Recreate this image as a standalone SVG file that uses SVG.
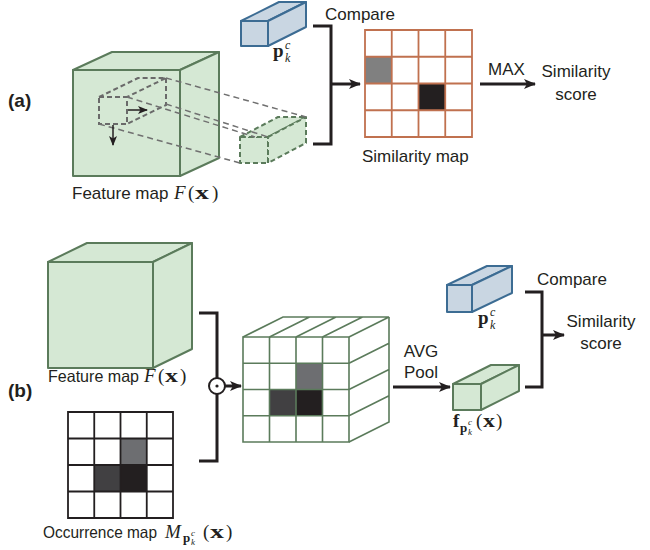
<svg xmlns="http://www.w3.org/2000/svg" width="650" height="550" viewBox="0 0 650 550">
<defs>
<style>
.t{font-family:"Liberation Sans",Arial,sans-serif;font-size:17px;fill:#231f20}
.t16{font-family:"Liberation Sans",Arial,sans-serif;font-size:16.5px;fill:#231f20}
.lbl{font-family:"Liberation Sans",Arial,sans-serif;font-size:19px;font-weight:bold;fill:#231f20}
.m{font-family:"Liberation Serif","Times New Roman",serif;font-size:19px;fill:#231f20}
.mi{font-family:"Liberation Serif","Times New Roman",serif;font-size:19px;font-style:italic;fill:#231f20}
.mb{font-family:"Liberation Serif","Times New Roman",serif;font-size:19px;font-weight:bold;fill:#231f20}
.ms{font-family:"Liberation Serif","Times New Roman",serif;font-size:12px;font-style:italic;fill:#231f20}
.msb{font-family:"Liberation Serif","Times New Roman",serif;font-size:13px;font-weight:bold;fill:#231f20}
.mss{font-family:"Liberation Serif","Times New Roman",serif;font-size:9px;font-style:italic;fill:#231f20}
.green{fill:#d5e8d4;stroke:#5b7b5b;stroke-width:2;stroke-linejoin:round}
.blue{fill:#c9d6e2;stroke:#3c6c93;stroke-width:2;stroke-linejoin:round}
.gdash{fill:#d5e8d4;stroke:#5b7b5b;stroke-width:2;stroke-dasharray:5,3;stroke-linejoin:round}
.dash{fill:none;stroke:#707070;stroke-width:1.5;stroke-dasharray:6,4}
.sdash{fill:none;stroke:#6a6a6a;stroke-width:2;stroke-dasharray:5,3}
.br{fill:none;stroke:#231f20;stroke-width:3}
.arr{fill:none;stroke:#231f20;stroke-width:3}
.sarr{fill:none;stroke:#231f20;stroke-width:1.5}
.sim{fill:none;stroke:#c0714f;stroke-width:1.8}
.occ{fill:none;stroke:#231f20;stroke-width:1.8}
.gg{fill:none;stroke:#5b7b5b;stroke-width:1.6}
</style>
<marker id="ah" viewBox="0 0 12 10" refX="11" refY="5" markerWidth="12" markerHeight="10" markerUnits="userSpaceOnUse" orient="auto">
<path d="M0,0 L12,5 L0,10 L3,5 Z" fill="#231f20"/>
</marker>
<marker id="sah" viewBox="0 0 10 8" refX="9" refY="4" markerWidth="10" markerHeight="8" markerUnits="userSpaceOnUse" orient="auto">
<path d="M0,0 L10,4 L0,8 L2.5,4 Z" fill="#231f20"/>
</marker>
</defs>
<rect width="650" height="550" fill="#ffffff"/>

<!-- ===== (a) ===== -->
<text class="lbl" x="8" y="107">(a)</text>

<g id="a-feature-cube">
<rect class="green" x="73" y="70" width="107" height="106"/>
<polygon class="green" points="73,70 112,52 219,52 180,70"/>
<polygon class="green" points="180,70 219,52 219,158 180,176"/>
</g>

<g id="a-patch">
<rect class="sdash" x="99" y="97" width="28" height="27"/>
<polyline class="sdash" points="99,97 138,78 166,78 127,97"/>
<polyline class="sdash" points="166,78 166,105 127,124"/>
</g>

<g id="a-patch-prism">
<rect class="gdash" x="240" y="137" width="28" height="26"/>
<polygon class="gdash" points="240,137 278,117 306,117 268,137"/>
<polygon class="gdash" points="268,137 306,117 306,143 268,163"/>
</g>

<g id="a-proto">
<rect class="blue" x="241" y="21" width="27" height="25"/>
<polygon class="blue" points="241,21 279,2 306,2 268,21"/>
<polygon class="blue" points="268,21 306,2 306,27 268,46"/>
</g>
<g id="a-proto-label">
<text class="mb" x="273" y="57">p</text>
<text class="ms" x="285" y="49">c</text>
<text class="ms" x="285" y="62">k</text>
</g>

<g id="a-simmap">
<rect x="365" y="56.75" width="26.75" height="26.75" fill="#808080"/>
<rect x="418.5" y="83.5" width="26.75" height="26.75" fill="#231f20"/>
<path class="sim" d="M365,30 H472 V137 H365 Z M391.75,30 V137 M418.5,30 V137 M445.25,30 V137 M365,56.75 H472 M365,83.5 H472 M365,110.25 H472"/>
</g>

<g id="a-texts">
<text class="t" x="72" y="199">Feature map</text>
<text class="mi" x="174" y="199">F</text>
<text class="m" x="188" y="199">(</text>
<text class="mb" x="195" y="199" textLength="14" lengthAdjust="spacingAndGlyphs">x</text>
<text class="m" x="212" y="199">)</text>
<text class="t" x="325" y="20">Compare</text>
<text class="t" x="362" y="162">Similarity map</text>
<text class="t" x="488" y="75">MAX</text>
<text class="t" x="576" y="77" text-anchor="middle">Similarity</text>
<text class="t" x="576" y="100" text-anchor="middle">score</text>
</g>

<g id="a-connectors">
<line class="dash" x1="166" y1="78" x2="306" y2="117"/>
<line class="dash" x1="127" y1="97" x2="255" y2="137"/>
<line class="dash" x1="166" y1="104" x2="268" y2="137"/>
<line class="dash" x1="99" y1="124" x2="240" y2="163"/>
<line class="sarr" x1="128" y1="110" x2="147" y2="110" marker-end="url(#sah)"/>
<line class="sarr" x1="113" y1="125" x2="113" y2="145" marker-end="url(#sah)"/>
<path class="br" d="M313,26 H331 V144 H313"/>
<line class="arr" x1="331" y1="84" x2="360" y2="84" marker-end="url(#ah)"/>
<line class="arr" x1="480" y1="84" x2="535" y2="84" marker-end="url(#ah)"/>
</g>

<!-- ===== (b) ===== -->
<text class="lbl" x="8" y="397">(b)</text>

<g id="b-feature-cube">
<rect class="green" x="48" y="262" width="105" height="106"/>
<polygon class="green" points="48,262 87,243 192,243 153,262"/>
<polygon class="green" points="153,262 192,243 192,349 153,368"/>
</g>
<g id="b-feature-label">
<text class="t16" x="48" y="382" textLength="91" lengthAdjust="spacingAndGlyphs">Feature map</text>
<text class="mi" x="144" y="382">F</text>
<text class="m" x="158" y="382">(</text>
<text class="mb" x="165" y="382" textLength="13" lengthAdjust="spacingAndGlyphs">x</text>
<text class="m" x="180" y="382">)</text>
</g>

<g id="b-occurrence">
<rect x="120.5" y="438.3" width="26.25" height="26.5" fill="#6d6e71"/>
<rect x="94.25" y="464.8" width="26.25" height="26.5" fill="#414042"/>
<rect x="120.5" y="464.8" width="26.25" height="26.5" fill="#231f20"/>
<path class="occ" d="M68,412 H173 V518 H68 Z M94.25,412 V518 M120.5,412 V518 M146.75,412 V518 M68,438.5 H173 M68,465 H173 M68,491.5 H173"/>
</g>
<g id="b-occurrence-label">
<text class="t16" x="43" y="538" textLength="114" lengthAdjust="spacingAndGlyphs">Occurrence map</text>
<text class="mi" x="165" y="538">M</text>
<text class="msb" x="183" y="542">p</text>
<text class="mss" x="191" y="536">c</text>
<text class="mss" x="191" y="545">k</text>
<text class="m" x="203" y="538">(</text>
<text class="mb" x="210" y="538" textLength="14" lengthAdjust="spacingAndGlyphs">x</text>
<text class="m" x="226" y="538">)</text>
</g>

<g id="b-masked-cube">
<polygon points="243,337 283,317 389,317 389,422 349,442 243,442" fill="#ffffff"/>
<rect x="296" y="363.25" width="26.5" height="26.25" fill="#6d6e71"/>
<rect x="269.5" y="389.5" width="26.5" height="26.25" fill="#414042"/>
<rect x="296" y="389.5" width="26.5" height="26.25" fill="#231f20"/>
<path class="gg" d="M243,337 H349 V442 H243 Z M269.5,337 V442 M296,337 V442 M322.5,337 V442 M243,363.25 H349 M243,389.5 H349 M243,415.75 H349"/>
<path class="gg" d="M243,337 L283,317 H389 L349,337 M269.5,337 L309.5,317 M296,337 L336,317 M322.5,337 L362.5,317"/>
<path class="gg" d="M389,317 V422 L349,442 M349,363.25 L389,343.25 M349,389.5 L389,369.5 M349,415.75 L389,395.75"/>
</g>

<g id="b-pooled">
<rect class="green" x="453" y="384" width="28" height="26"/>
<polygon class="green" points="453,384 491,365 519,365 481,384"/>
<polygon class="green" points="481,384 519,365 519,391 481,410"/>
</g>
<g id="b-pooled-label">
<text class="mb" x="453" y="427">f</text>
<text class="msb" x="460" y="432">p</text>
<text class="mss" x="468" y="425">c</text>
<text class="mss" x="468" y="435">k</text>
<text class="m" x="476" y="427">(</text>
<text class="mb" x="483" y="427" textLength="12" lengthAdjust="spacingAndGlyphs">x</text>
<text class="m" x="496" y="427">)</text>
</g>

<g id="b-proto">
<rect class="blue" x="447" y="285" width="25" height="27"/>
<polygon class="blue" points="447,285 487,266 512,266 472,285"/>
<polygon class="blue" points="472,285 512,266 512,293 472,312"/>
</g>
<g id="b-proto-label">
<text class="mb" x="478" y="324">p</text>
<text class="ms" x="490" y="316">c</text>
<text class="ms" x="490" y="329">k</text>
</g>

<g id="b-texts">
<text class="t" x="421" y="357" text-anchor="middle">AVG</text>
<text class="t" x="421" y="378" text-anchor="middle">Pool</text>
<text class="t" x="537" y="285">Compare</text>
<text class="t" x="601" y="327" text-anchor="middle">Similarity</text>
<text class="t" x="601" y="349" text-anchor="middle">score</text>
</g>

<g id="b-connectors">
<path class="br" d="M199,313 H217 V461 H199"/>
<circle cx="217" cy="386" r="8" fill="#ffffff" stroke="#231f20" stroke-width="2"/>
<circle cx="217" cy="386" r="1.6" fill="#231f20"/>
<line class="arr" x1="225" y1="386" x2="241" y2="386" marker-end="url(#ah)"/>
<line class="arr" x1="393" y1="387" x2="450" y2="387" marker-end="url(#ah)"/>
<path class="br" d="M525,292 H542 V387 H525"/>
<line class="arr" x1="542" y1="335" x2="564" y2="335" marker-end="url(#ah)"/>
</g>
</svg>
